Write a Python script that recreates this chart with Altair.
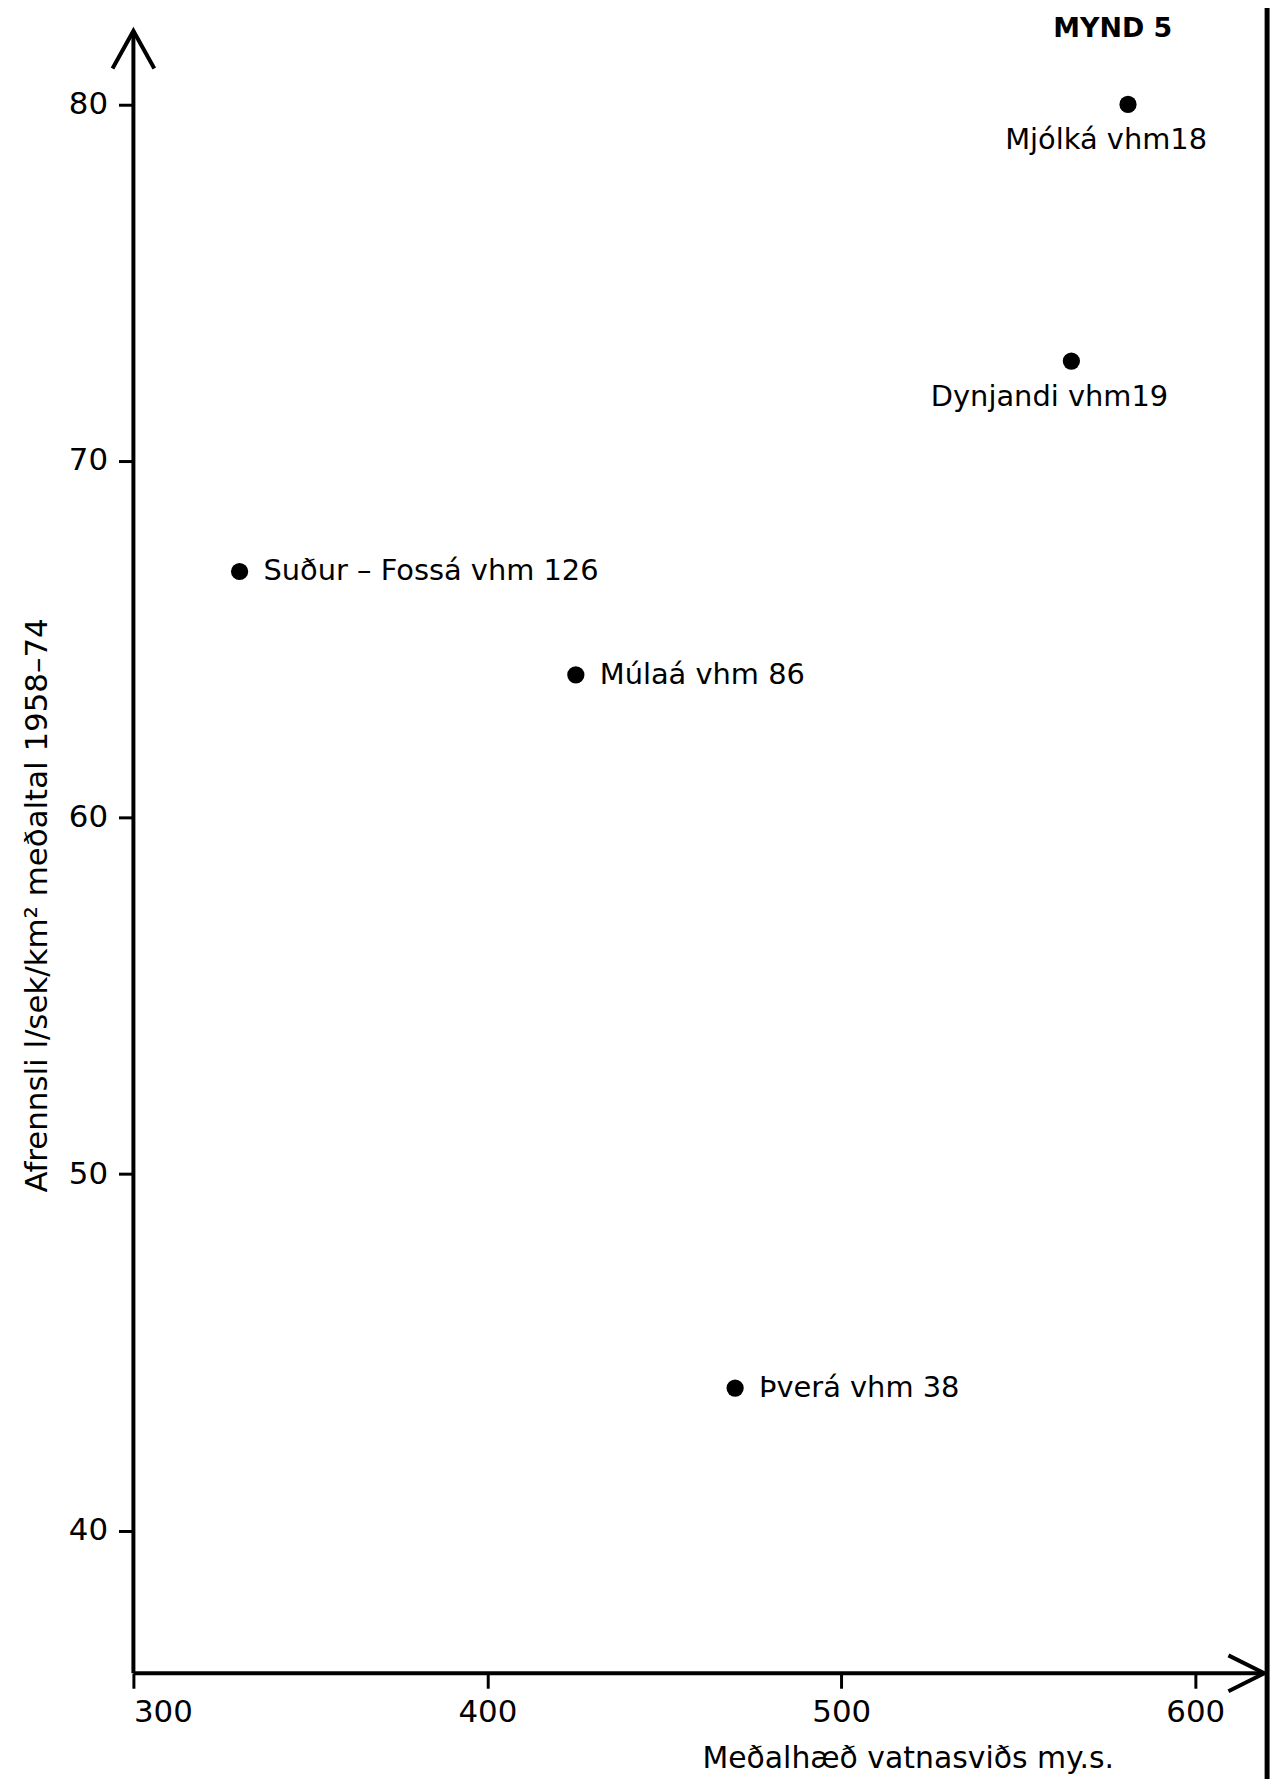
import altair as alt
import pandas as pd

# ---- data ----
names = ["Mjólká vhm18", "Dynjandi vhm19", "Suður – Fossá vhm 126", "Múlaá vhm 86", "Þverá vhm 38"]
elevation = [581, 565, 330, 425, 470]          # Meðalhæð vatnasviðs (m y.s.)
runoff = [80.0, 72.8, 66.9, 64.0, 44.0]        # Afrennsli l/sek/km²
below_labels = ["Mjólká vhm18", "Dynjandi vhm19"]

x_ticks = [300, 400, 500, 600]
y_ticks = [40, 50, 60, 70, 80]
x_domain = [300, 620]
y_domain = [36, 82]
x_title = "Meðalhæð vatnasviðs  my.s."
y_title = "Afrennsli l/sek/km² meðaltal 1958–74"
fig_label = "MYND 5"

FONT = "DejaVu Sans"

df = pd.DataFrame({"name": names, "elev": elevation, "runoff": runoff})
df["side"] = ["below" if n in below_labels else "right" for n in names]

xs = alt.Scale(domain=x_domain, nice=False, zero=False)
ys = alt.Scale(domain=y_domain, nice=False, zero=False)

x_axis = alt.Axis(values=x_ticks, domain=False, grid=False, tickSize=15, tickWidth=3,
                  tickColor="black", labelFont=FONT, labelFontSize=31, labelColor="black",
                  labelPadding=9, title=x_title, titleFont=FONT, titleFontSize=30,
                  titleFontWeight="normal", titleColor="black", titleX=778, titleY=86,
                  titleAlign="center", titleBaseline="middle")
y_axis = alt.Axis(values=y_ticks, domain=False, grid=False, tickSize=15, tickWidth=3,
                  tickColor="black", labelFont=FONT, labelFontSize=31, labelColor="black",
                  labelPadding=11, title=y_title, titleFont=FONT, titleFontSize=31,
                  titleFontWeight="normal", titleColor="black", titleX=-96, titleY=876,
                  titleAlign="center", titleBaseline="middle", titleAngle=-90)

base = alt.Chart(df)

points = base.mark_circle(size=300, color="black", opacity=1).encode(
    x=alt.X("elev:Q", scale=xs, axis=x_axis),
    y=alt.Y("runoff:Q", scale=ys, axis=y_axis),
)

right_lbl = base.transform_filter(alt.datum.side == "right").mark_text(
    align="left", baseline="middle", dx=24, dy=0, font=FONT, fontSize=29, color="black"
).encode(x="elev:Q", y="runoff:Q", text="name:N")

below_lbl = base.transform_filter(alt.datum.side == "below").mark_text(
    align="center", baseline="alphabetic", dx=-22, dy=45, font=FONT, fontSize=29, color="black"
).encode(x="elev:Q", y="runoff:Q", text="name:N")

one = pd.DataFrame({"a": [0]})

# axis lines with arrowheads
y_line = alt.Chart(one).mark_rule(color="black", strokeWidth=4).encode(
    x=alt.datum(x_domain[0]), y=alt.datum(y_domain[0]), y2=alt.datum(82.06))
x_line = alt.Chart(one).mark_rule(color="black", strokeWidth=4).encode(
    y=alt.datum(y_domain[0]), x=alt.datum(x_domain[0]), x2=alt.datum(619.5))
y_arrow = alt.Chart(one).mark_point(
    shape="M-1,1.8L0,0L1,1.8", size=1764, filled=False, color="black", strokeWidth=4,
    opacity=1).encode(x=alt.datum(x_domain[0]), y=alt.datum(82.06))
x_arrow = alt.Chart(one).mark_point(
    shape="M-2,-1L0,0L-2,1", size=1296, filled=False, color="black", strokeWidth=4,
    opacity=1).encode(x=alt.datum(619.5), y=alt.datum(y_domain[0]))

# right frame line of the sheet
frame = alt.Chart(one).mark_rule(color="black", strokeWidth=5).encode(
    x=alt.datum(620.3), y=alt.datum(83.0), y2=alt.datum(31.0))

label = alt.Chart(pd.DataFrame({"t": [fig_label]})).mark_text(
    align="center", baseline="middle", font=FONT, fontSize=27, fontWeight="bold", color="black"
).encode(x=alt.datum(576.7), y=alt.datum(82.11), text="t:N")

chart = alt.layer(points, right_lbl, below_lbl, y_line, x_line, y_arrow, x_arrow, frame, label).properties(
    width=1138, height=1648,
    autosize=alt.AutoSizeParams(type="none"),
    padding={"left": 126, "top": 21, "right": 8, "bottom": 102},
    background="white",
).configure_view(stroke=None)

chart.save("out.html", embed_options={"renderer": "svg", "actions": False})
